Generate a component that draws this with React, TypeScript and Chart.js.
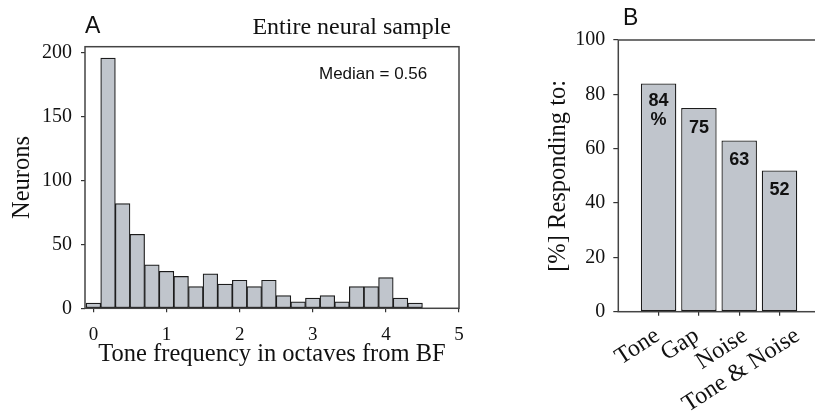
import React, { useEffect, useRef } from "react";
import { Chart, registerables } from "chart.js";

Chart.register(...registerables);

// ---------- Panel A data ----------
const binCenters = [0, 0.2, 0.4, 0.6, 0.8, 1.0, 1.2, 1.4, 1.6, 1.8, 2.0, 2.2, 2.4, 2.6, 2.8, 3.0, 3.2, 3.4, 3.6, 3.8, 4.0, 4.2, 4.4];
const neuronCounts = [4, 196, 82, 58, 34, 29, 25, 17, 27, 19, 22, 17, 22, 10, 5, 8, 10, 5, 17, 17, 24, 8, 4];
const xTicksA = [0, 1, 2, 3, 4, 5];
const yTicksA = [0, 50, 100, 150, 200];
const medianLabel = "Median = 0.56";

// ---------- Panel B data ----------
const categories = ["Tone", "Gap", "Noise", "Tone & Noise"];
const categoryPositions = [1, 2, 3, 4];
const percentResponding = [84, 75, 63, 52];
const yTicksB = [0, 20, 40, 60, 80, 100];

// styling (label nudges along x for the rotated category labels, in px)
const labelNudgeB = [-1, -2, 6, 18];

const SERIF = "Liberation Serif";
const SANS = "Liberation Sans";
const BAR_FILL = "#c0c5cc";
const BAR_EDGE = "#1c1c1c";
const FRAME = "#444";

const panelAPlugin = {
  id: "panelA",
  afterDraw(chart: any) {
    const { ctx, chartArea } = chart;
    ctx.save();
    ctx.strokeStyle = FRAME;
    ctx.lineWidth = 1.5;
    ctx.strokeRect(chartArea.left, chartArea.top, chartArea.right - chartArea.left, chartArea.bottom - chartArea.top);
    ctx.fillStyle = "#111";
    ctx.textBaseline = "alphabetic";
    ctx.font = `23px "${SANS}"`;
    ctx.textAlign = "left";
    ctx.fillText("A", 85, 33);
    ctx.font = `24px "${SERIF}"`;
    ctx.textAlign = "right";
    ctx.fillText("Entire neural sample", 451, 34.3);
    ctx.font = `17px "${SANS}"`;
    ctx.textAlign = "left";
    ctx.fillText(medianLabel, 319, 79);
    ctx.restore();
  },
};

const panelBPlugin = {
  id: "panelB",
  beforeDraw(chart: any) {
    const sx = chart.scales.x;
    if (!sx || !sx.getLabelItems) return;
    const items = sx.getLabelItems(chart.chartArea);
    items.forEach((it: any, i: number) => {
      if (!it._nudged && it.options && it.options.translation) {
        it.options.translation[0] += labelNudgeB[i] || 0;
        it.options.translation[1] += 2;
        it._nudged = true;
      }
    });
  },
  afterDraw(chart: any) {
    const { ctx, chartArea } = chart;
    ctx.save();
    ctx.strokeStyle = FRAME;
    ctx.lineWidth = 1.5;
    ctx.strokeRect(chartArea.left, chartArea.top, chartArea.right - chartArea.left, chartArea.bottom - chartArea.top);
    ctx.fillStyle = "#111";
    ctx.font = `23px "${SANS}"`;
    ctx.textAlign = "left";
    ctx.textBaseline = "alphabetic";
    ctx.fillText("B", 143, 25);
    // value labels inside bars
    const meta = chart.getDatasetMeta(0);
    ctx.font = `bold 18px "${SANS}"`;
    ctx.textAlign = "center";
    ctx.textBaseline = "middle";
    meta.data.forEach((el: any, i: number) => {
      const v = percentResponding[i];
      if (i === 0) {
        ctx.fillText(String(v), el.x, el.y + 17.5);
        ctx.fillText("%", el.x, el.y + 36.5);
      } else {
        ctx.fillText(String(v), el.x, el.y + 20);
      }
    });
    ctx.restore();
  },
};

export default function App() {
  const refA = useRef<HTMLCanvasElement | null>(null);
  const refB = useRef<HTMLCanvasElement | null>(null);

  useEffect(() => {
    const chartA = new Chart(refA.current as HTMLCanvasElement, {
      type: "bar",
      data: {
        datasets: [
          {
            data: binCenters.map((x, i) => ({ x, y: neuronCounts[i] })),
            backgroundColor: BAR_FILL,
            borderColor: BAR_EDGE,
            borderWidth: 1.2,
            borderSkipped: false,
            barPercentage: 1,
            categoryPercentage: 1,
          } as any,
        ],
      },
      options: {
        animation: false,
        responsive: false,
        events: [],
        layout: { padding: { left: 7.6, top: 46.7, right: 21, bottom: 49.6 } },
        plugins: { legend: { display: false }, tooltip: { enabled: false } },
        scales: {
          x: {
            type: "linear",
            min: -0.115,
            max: 5,
            offset: false,
            afterBuildTicks: (s: any) => {
              s.ticks = xTicksA.map((v) => ({ value: v }));
            },
            afterFit: (s: any) => {
              s.height = 61.1;
            },
            ticks: { font: { family: SERIF, size: 19 }, color: "#111", padding: 11.3, maxRotation: 0, autoSkip: false },
            grid: { drawOnChartArea: false, drawTicks: true, tickLength: 4, color: "#333", lineWidth: 1.2, offset: false },
            border: { display: false },
            title: {
              display: true,
              text: "Tone frequency in octaves from BF",
              font: { family: SERIF, size: 24.5 },
              color: "#111",
              padding: 0,
            },
          },
          y: {
            type: "linear",
            min: 0,
            max: 205,
            afterBuildTicks: (s: any) => {
              s.ticks = yTicksA.map((v) => ({ value: v }));
            },
            afterFit: (s: any) => {
              s.width = 77.4;
            },
            ticks: { font: { family: SERIF, size: 20 }, color: "#111", padding: 9 },
            grid: { drawOnChartArea: false, drawTicks: true, tickLength: 4, color: "#333", lineWidth: 1.2 },
            border: { display: false },
            title: {
              display: true,
              text: "Neurons",
              font: { family: SERIF, size: 24.5 },
              color: "#111",
              padding: 0,
            },
          },
        },
      },
      plugins: [panelAPlugin],
    } as any);

    const chartB = new Chart(refB.current as HTMLCanvasElement, {
      type: "bar",
      data: {
        datasets: [
          {
            data: categoryPositions.map((x, i) => ({ x, y: percentResponding[i] })),
            backgroundColor: BAR_FILL,
            borderColor: BAR_EDGE,
            borderWidth: 1.3,
            borderSkipped: false,
            barPercentage: 0.88,
            categoryPercentage: 1,
          } as any,
        ],
      },
      options: {
        animation: false,
        responsive: false,
        events: [],
        layout: { padding: { left: 63.6, top: 40, right: 10.2, bottom: 0 } },
        plugins: { legend: { display: false }, tooltip: { enabled: false } },
        scales: {
          x: {
            type: "linear",
            min: 0,
            max: 5,
            offset: false,
            afterBuildTicks: (s: any) => {
              s.ticks = categoryPositions.map((v) => ({ value: v }));
            },
            afterFit: (s: any) => {
              s.height = 107.3;
            },
            ticks: {
              font: { family: SERIF, size: 24 },
              color: "#111",
              padding: 4,
              minRotation: 33,
              maxRotation: 33,
              autoSkip: false,
              callback: (v: any) => categories[categoryPositions.indexOf(Number(v))] ?? "",
            },
            grid: { drawOnChartArea: false, drawTicks: true, tickLength: 4, color: "#333", lineWidth: 1.2, offset: false },
            border: { display: false },
          },
          y: {
            type: "linear",
            min: 0,
            max: 100,
            afterBuildTicks: (s: any) => {
              s.ticks = yTicksB.map((v) => ({ value: v }));
            },
            afterFit: (s: any) => {
              s.width = 74.7;
            },
            ticks: { font: { family: SERIF, size: 20 }, color: "#111", padding: 8 },
            grid: { drawOnChartArea: false, drawTicks: true, tickLength: 5, color: "#333", lineWidth: 1.2 },
            border: { display: false },
            title: {
              display: true,
              text: "[%] Responding to:",
              font: { family: SERIF, size: 24.5 },
              color: "#111",
              padding: 0,
            },
          },
        },
      },
      plugins: [panelBPlugin],
    } as any);

    return () => {
      chartA.destroy();
      chartB.destroy();
    };
  }, []);

  return (
    <div
      style={{
        position: "fixed",
        left: 0,
        top: 0,
        width: 815,
        height: 419,
        overflow: "hidden",
        background: "#fff",
      }}
    >
      <canvas ref={refA} width={480} height={419} style={{ position: "absolute", left: 0, top: 0, width: 480, height: 419 }} />
      <canvas ref={refB} width={350} height={419} style={{ position: "absolute", left: 480, top: 0, width: 350, height: 419 }} />
    </div>
  );
}
